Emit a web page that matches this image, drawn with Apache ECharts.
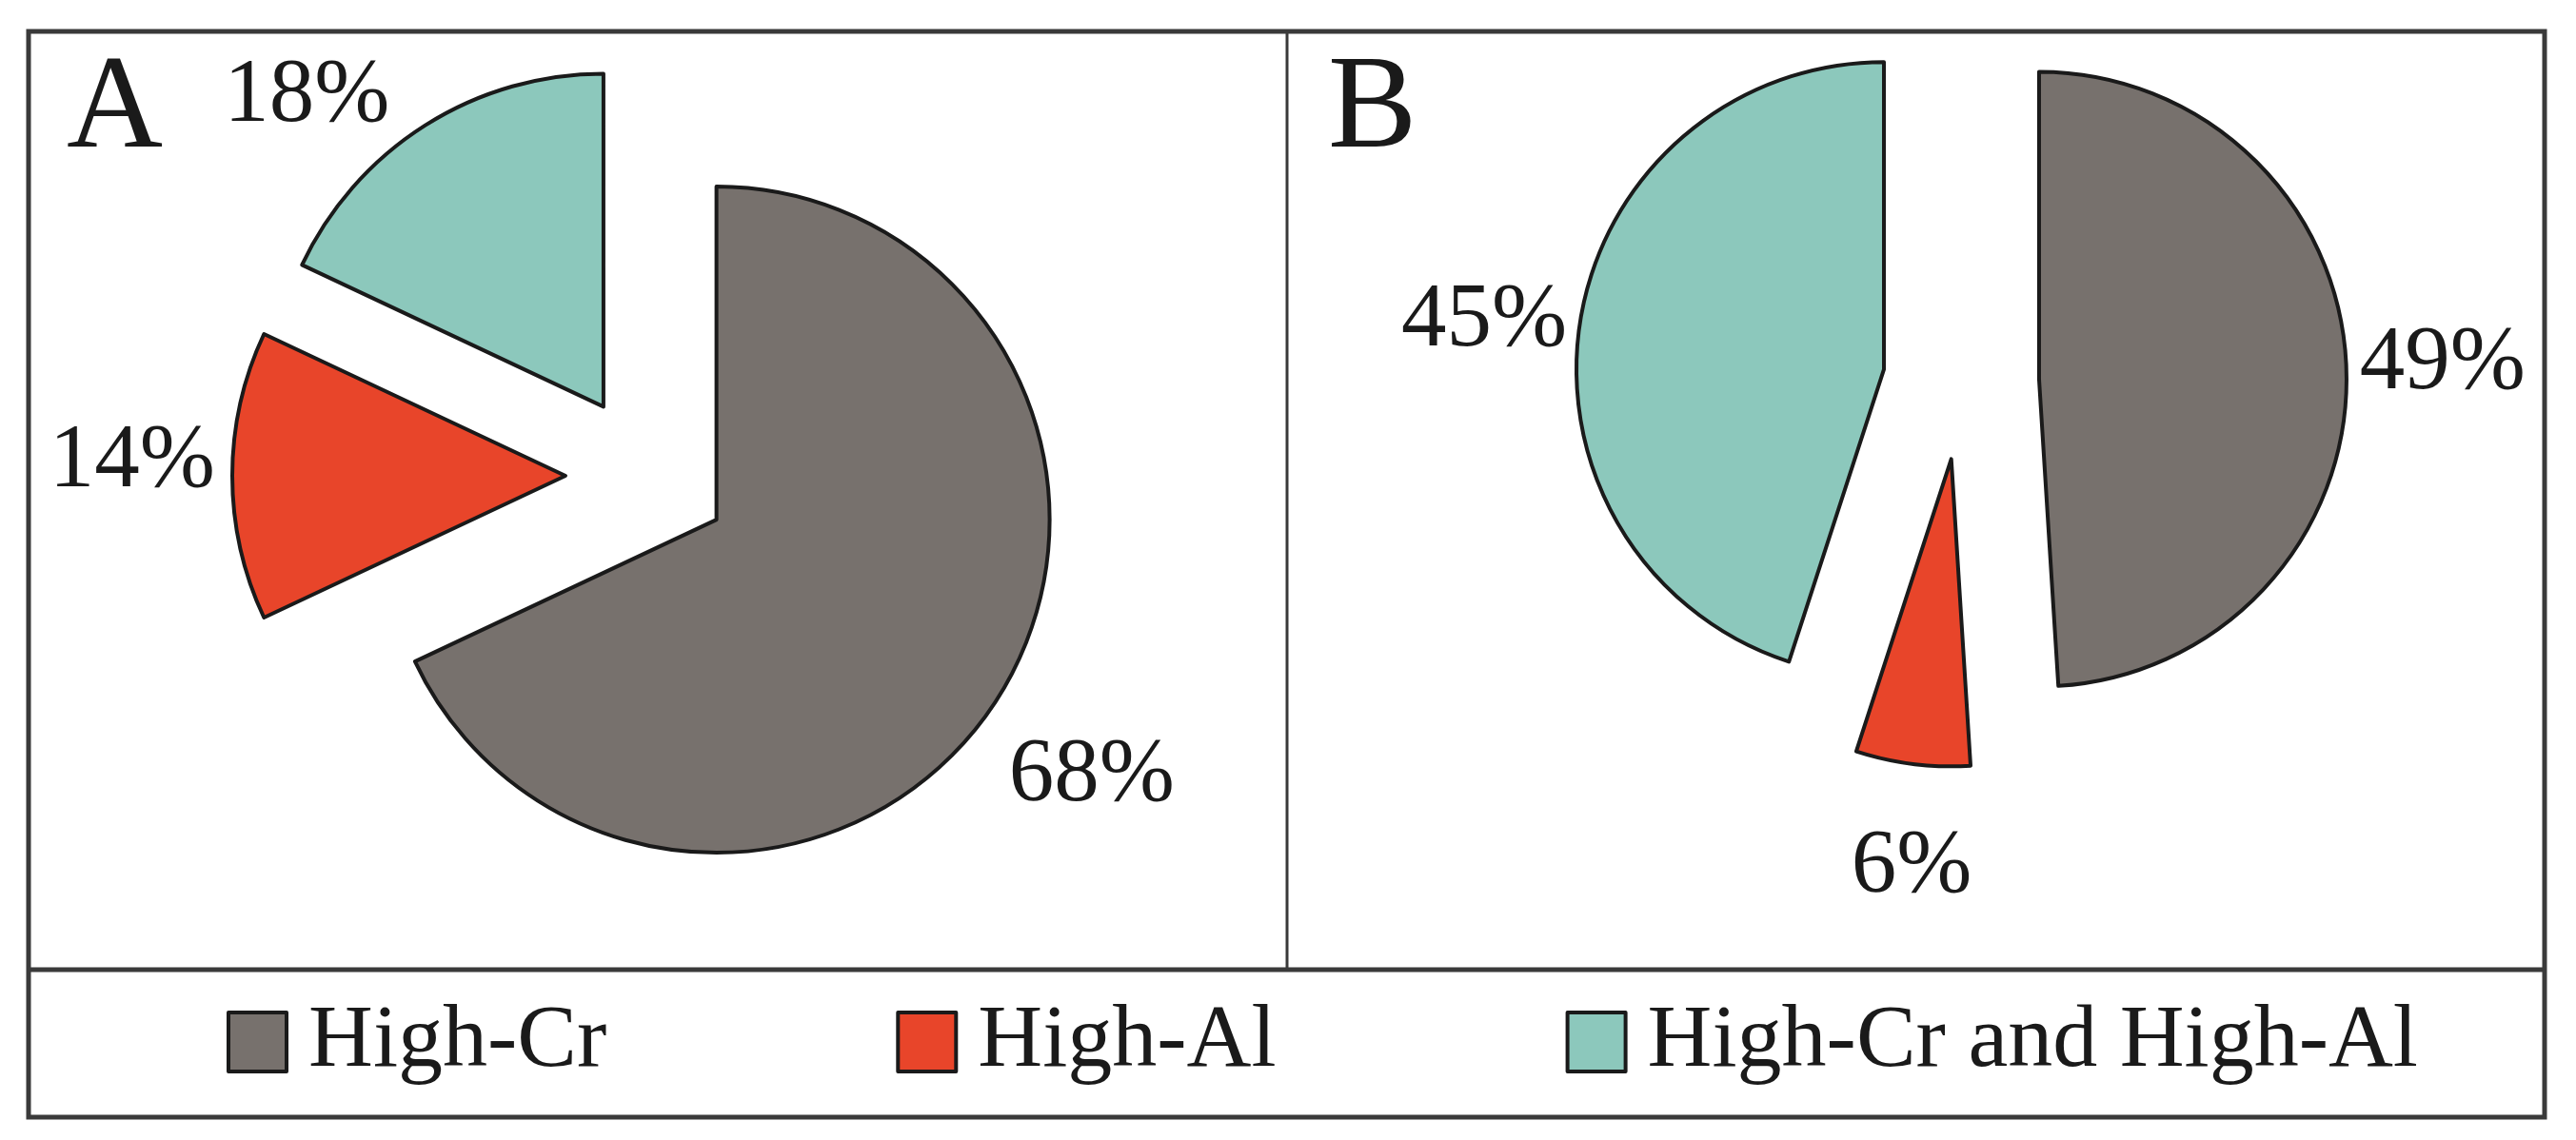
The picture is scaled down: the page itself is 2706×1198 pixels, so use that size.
<!DOCTYPE html>
<html>
<head>
<meta charset="utf-8">
<script src="https://cdn.jsdelivr.net/npm/echarts@6/dist/echarts.min.js"></script>
<style>
  html, body { margin: 0; padding: 0; background: #ffffff; }
  #chart { width: 2706px; height: 1198px; }
</style>
</head>
<body>
<div id="chart"></div>
<script>
// ---- data ----
const categories = ['High-Cr', 'High-Al', 'High-Cr and High-Al'];
const valuesA = [68, 14, 18];
const valuesB = [49, 6, 45];
const panelTitles = ['A', 'B'];

// ---- styling ----
const colors = ['#77716d', '#e8452a', '#8cc8bc'];
const serif = "'Liberation Serif', 'Times New Roman', Times, serif";
const ink = '#1a1a1a';
// small label nudges relative to ECharts' own outside label placement
const nudgeA = [[-36, 74], [32, -14], [6, -17]];
const nudgeB = [[-36, -5], [99, 94], [36, 3]];

function pieSeries(name, values, center, radius, offset, nudge) {
  return {
    type: 'pie',
    name: name,
    center: center,
    radius: radius,
    startAngle: 90,
    clockwise: true,
    selectedMode: 'multiple',
    selectedOffset: offset,
    avoidLabelOverlap: false,
    animation: false,
    silent: true,
    emphasis: { disabled: true },
    itemStyle: { borderColor: ink, borderWidth: 4 },
    label: {
      show: true,
      position: 'outside',
      formatter: '{c}%',
      fontFamily: serif,
      fontSize: 95,
      color: ink
    },
    labelLine: { show: false },
    labelLayout: function (p) {
      const n = nudge[p.dataIndex] || [0, 0];
      return { dx: n[0], dy: n[1] };
    },
    select: { itemStyle: { borderColor: ink, borderWidth: 4 } },
    data: categories.map(function (c, i) {
      return { name: c, value: values[i], selected: true };
    })
  };
}

const chart = echarts.init(document.getElementById('chart'), null, { renderer: 'canvas' });

const option = {
  backgroundColor: '#ffffff',
  color: colors,
  animation: false,
  title: [
    { text: panelTitles[0], left: 70, top: 47, padding: 0,
      textStyle: { fontFamily: serif, fontSize: 140, fontWeight: 'normal', color: ink } },
    { text: panelTitles[1], left: 1395, top: 47, padding: 0,
      textStyle: { fontFamily: serif, fontSize: 140, fontWeight: 'normal', color: ink } }
  ],
  legend: {
    data: categories,
    left: 238,
    top: 1048,
    padding: 0,
    orient: 'horizontal',
    icon: 'rect',
    itemWidth: 61,
    itemHeight: 62,
    itemGap: 304,
    selectedMode: false,
    itemStyle: { borderColor: ink, borderWidth: 4 },
    textStyle: { fontFamily: serif, fontSize: 94, color: ink, padding: [0, 0, 0, 18] }
  },
  graphic: [
    { type: 'rect', shape: { x: 30, y: 33, width: 2643, height: 1141 },
      style: { fill: 'none', stroke: '#3a3a3a', lineWidth: 5 }, silent: true },
    { type: 'line', shape: { x1: 1352, y1: 33, x2: 1352, y2: 1019 },
      style: { stroke: '#3a3a3a', lineWidth: 3 }, silent: true },
    { type: 'line', shape: { x1: 30, y1: 1019, x2: 2673, y2: 1019 },
      style: { stroke: '#3a3a3a', lineWidth: 5 }, silent: true }
  ],
  series: [
    pieSeries('A', valuesA, [680, 500], 350, 86, nudgeA),
    pieSeries('B', valuesB, [2060, 401], 323, 82, nudgeB)
  ]
};

chart.setOption(option);
</script>
</body>
</html>
